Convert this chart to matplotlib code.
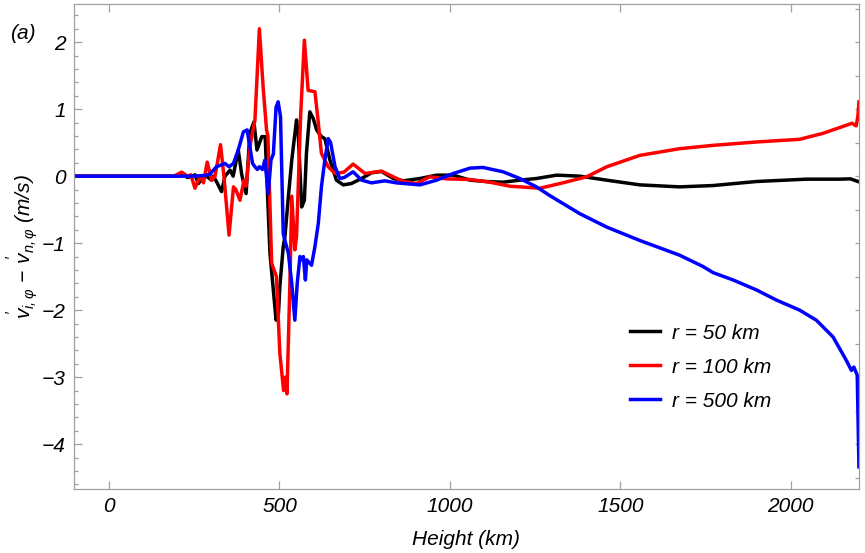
import matplotlib
matplotlib.use("Agg")
import matplotlib.pyplot as plt
from matplotlib.ticker import MultipleLocator

# values (height in km, velocity difference in m/s)
h_50 = [-100, 150, 200, 215, 230, 245, 252, 262, 270, 286, 301, 306, 316, 330, 340, 355, 364,
        379, 389, 402, 413, 425, 434, 448, 458, 464, 472, 481, 490, 497, 501, 511, 516, 526,
        536, 550, 555, 565, 573, 579, 589, 599, 609, 623, 633, 648, 667, 687, 711, 741, 770,
        799, 834, 863, 912, 961, 1010, 1059, 1107, 1156, 1205, 1254, 1313, 1381, 1460, 1557,
        1674, 1772, 1899, 2046, 2144, 2175, 2200]
v_50 = [0, 0, 0, 0.03, -0.02, 0.0, 0.02, -0.11, -0.06, 0.0, -0.06, 0.0, -0.09, -0.23, 0.0, 0.09,
        0.0, 0.39, 0.03, -0.26, 0.64, 0.81, 0.39, 0.59, 0.59, -0.16, -1.15, -1.65, -2.15, -2.05,
        -1.65, -1.05, -0.9, -0.31, 0.24, 0.84, 0.64, -0.46, -0.36, 0.34, 0.96, 0.86, 0.69, 0.59,
        0.56, 0.24, -0.06, -0.13, -0.11, -0.035, 0.05, 0.07, -0.035, -0.07, -0.035, 0.015, 0.015,
        -0.06, -0.08, -0.09, -0.06, -0.035, 0.015, 0.0, -0.06, -0.13, -0.16, -0.14, -0.08, -0.045,
        -0.045, -0.04, -0.085]

h_100 = [-100, 150, 190, 213, 230, 240, 252, 267, 277, 288, 301, 311, 327, 337, 352, 365, 372,
         384, 396, 402, 413, 428, 441, 452, 462, 466, 477, 491, 501, 512, 517, 522, 531, 536,
         545, 550, 562, 573, 584, 604, 614, 623, 643, 663, 689, 716, 751, 799, 863, 902, 941,
         990, 1059, 1117, 1176, 1235, 1264, 1323, 1401, 1460, 1557, 1674, 1772, 1899, 2026,
         2095, 2163, 2180, 2192, 2197, 2200]
v_100 = [0, 0, 0, 0.06, 0.0, 0.02, -0.18, 0, -0.1, 0.21, -0.06, 0, 0.47, 0, -0.88, -0.16, -0.2,
         -0.36, -0.06, -0.15, 0.44, 0.84, 2.2, 1.33, 0.69, 0.6, -1.3, -1.5, -2.64, -3.2, -3.0,
         -3.25, -1.5, -0.3, -1.1, -0.9, 0.9, 2.03, 1.28, 1.26, 0.79, 0.34, 0.14, 0.04, 0.06, 0.18,
         0.04, 0.075, -0.08, -0.11, -0.01, -0.04, -0.05, -0.09, -0.15, -0.17, -0.18, -0.11, -0.01,
         0.14, 0.31, 0.41, 0.46, 0.51, 0.55, 0.64, 0.76, 0.79, 0.75, 0.9, 1.11]

h_500 = [-100, 250, 280, 296, 315, 340, 352, 365, 379, 394, 405, 413, 421, 428, 435, 441, 450,
         457, 467, 475, 482, 490, 496, 503, 511, 518, 526, 536, 545, 552, 560, 566, 570, 576,
         580, 594, 604, 614, 623, 633, 643, 650, 663, 677, 690, 716, 741, 770, 809, 843, 912,
         961, 1010, 1059, 1097, 1156, 1205, 1254, 1293, 1381, 1460, 1557, 1674, 1743, 1772,
         1831, 1900, 1958, 2026, 2075, 2124, 2163, 2178, 2185, 2195, 2200]
v_500 = [0, 0, 0.01, 0.03, 0.14, 0.19, 0.14, 0.19, 0.39, 0.66, 0.69, 0.44, 0.19, 0.14, 0.1, 0.14,
         0.1, 0.24, -0.26, 0.24, 0.33, 1.03, 1.11, 0.89, -0.86, -1.0, -1.15, -1.6, -2.15, -1.6,
         -1.2, -1.25, -1.2, -1.55, -1.25, -1.33, -1.05, -0.7, -0.16, 0.24, 0.56, 0.5, 0.14,
         -0.035, -0.02, 0.065, -0.06, -0.1, -0.07, -0.1, -0.13, -0.06, 0.04, 0.12, 0.13, 0.065,
         -0.035, -0.16, -0.29, -0.56, -0.76, -0.96, -1.18, -1.35, -1.44, -1.55, -1.7, -1.85,
         -2.0, -2.15, -2.4, -2.75, -2.9, -2.85, -2.97, -4.34]

labels = ["r = 50 km", "r = 100 km", "r = 500 km"]
colors = ["black", "red", "blue"]

plt.rcParams['font.family'] = ['Liberation Sans', 'DejaVu Sans']
plt.rcParams['font.style'] = 'italic'
plt.rcParams['mathtext.fontset'] = 'custom'
plt.rcParams['mathtext.it'] = 'Liberation Sans:italic'
plt.rcParams['mathtext.rm'] = 'Liberation Sans:italic'
plt.rcParams['mathtext.sf'] = 'Liberation Sans:italic'

fig = plt.figure(figsize=(8.65, 5.53), dpi=100)
ax = fig.add_axes([0.0855, 0.1157, 0.9075, 0.8771])

for h, v, c, lab in zip([h_50, h_100, h_500], [v_50, v_100, v_500], colors, labels):
    ax.plot(h, v, color=c, lw=2.5, label=lab)

ax.set_xlim(-103, 2200)
ax.set_ylim(-4.67, 2.57)

frame_col = '#a0a0a0'
for s in ax.spines.values():
    s.set_color(frame_col)
    s.set_linewidth(0.9)

ax.xaxis.set_major_locator(MultipleLocator(500))
ax.yaxis.set_major_locator(MultipleLocator(1))
ax.yaxis.set_minor_locator(MultipleLocator(0.2))
ax.tick_params(which='both', direction='in', color=frame_col, labelsize=15, width=0.9)
ax.tick_params(which='major', length=5.5, pad=6)
ax.tick_params(which='minor', length=3)
ax.yaxis.set_major_formatter(plt.FuncFormatter(lambda x, loc: "{:d}".format(int(round(x))).replace('-', '\u2212')))

# top and right frame ticks, no labels
top = ax.secondary_xaxis('top')
top.xaxis.set_major_locator(MultipleLocator(500))
top.tick_params(direction='in', color=frame_col, length=5.5, labeltop=False, width=0.9)
top.spines['top'].set_visible(False)
right = ax.secondary_yaxis('right')
right.yaxis.set_major_locator(MultipleLocator(0.5))
right.tick_params(direction='in', color=frame_col, length=3, labelright=False, width=0.9)
right.spines['right'].set_visible(False)

ax.set_xlabel("Height (km)", fontsize=15, labelpad=10)
ax.set_ylabel(r"$\overset{\prime}{v}_{i,\varphi}\,-\,\overset{\prime}{v}_{n,\varphi}$ (m/s)", fontsize=15, labelpad=1)

fig.text(0.012, 0.93, "(a)", fontsize=15)

ax.legend(loc='center left', bbox_to_anchor=(0.708, 0.2515), frameon=False, fontsize=15,
          handlelength=1.45, handletextpad=0.6, labelspacing=0.72, borderpad=0, borderaxespad=0)

plt.savefig("out.png", dpi=100)
